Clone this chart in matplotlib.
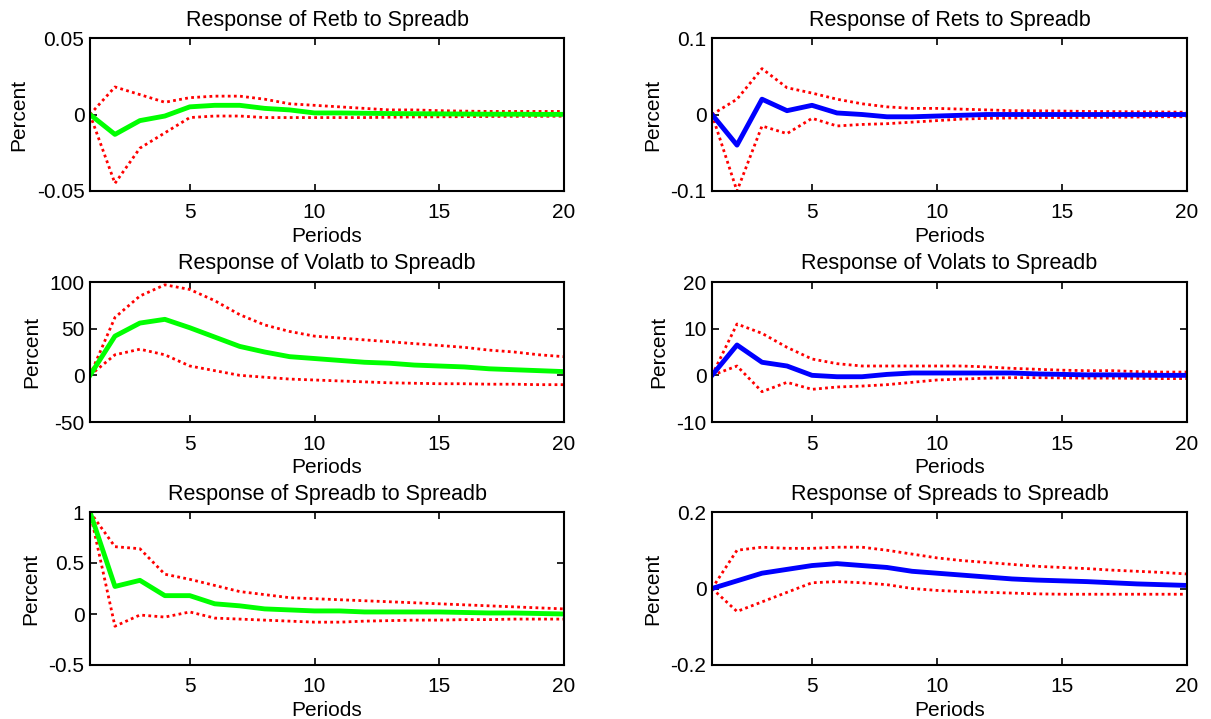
import numpy as np
import matplotlib
matplotlib.use('Agg')
from matplotlib import pyplot as plt

plt.rcParams['font.family'] = ['Liberation Sans', 'DejaVu Sans']
plt.rcParams['axes.unicode_minus'] = False

periods = np.arange(1, 21)

# response of Retb
retb_mid = [0, -0.013, -0.004, -0.001, 0.005, 0.006, 0.006, 0.004, 0.003, 0.001,
            0.001, 0.0008, 0.0006, 0.0005, 0.0004, 0.0003, 0.0002, 0.0002, 0.0001, 0.0001]
retb_up = [0, 0.018, 0.013, 0.008, 0.011, 0.012, 0.012, 0.010, 0.007, 0.006,
           0.005, 0.004, 0.003, 0.003, 0.0025, 0.0022, 0.002, 0.002, 0.002, 0.002]
retb_lo = [0, -0.045, -0.022, -0.012, -0.002, -0.001, -0.001, -0.002, -0.002, -0.002,
           -0.002, -0.002, -0.0018, -0.0016, -0.0015, -0.0014, -0.0013, -0.0012, -0.0012, -0.0011]

# response of Rets
rets_mid = [0, -0.04, 0.02, 0.005, 0.012, 0.002, 0.0, -0.003, -0.003, -0.002,
            -0.001, 0, 0, 0, 0, 0, 0, 0, 0, 0]
rets_up = [0, 0.02, 0.06, 0.035, 0.028, 0.02, 0.014, 0.01, 0.008, 0.008,
           0.007, 0.006, 0.005, 0.0048, 0.0045, 0.004, 0.0038, 0.0035, 0.0033, 0.003]
rets_lo = [0, -0.1, -0.015, -0.025, -0.005, -0.015, -0.013, -0.012, -0.01, -0.008,
           -0.006, -0.005, -0.0045, -0.004, -0.004, -0.0038, -0.0035, -0.0033, -0.003, -0.003]

# response of Volatb
volatb_mid = [0, 42, 56, 60, 51, 41, 31, 25, 20, 18, 16, 14, 13, 11, 10, 9, 7, 6, 5, 4]
volatb_up = [0, 62, 85, 97, 92, 80, 65, 54, 47, 42, 40, 38, 36, 34, 32, 30, 27, 25, 22, 20]
volatb_lo = [0, 22, 28, 22, 10, 5, 0, -2, -4, -5, -6, -7, -8, -8.5, -9, -9, -9.5, -9.5, -10, -10]

# response of Volats
volats_mid = [0, 6.5, 2.8, 2, 0, -0.3, -0.3, 0.2, 0.5, 0.5,
              0.5, 0.5, 0.5, 0.3, 0.2, 0.1, 0.1, 0.05, 0, 0]
volats_up = [0, 11, 9, 6, 3.5, 2.5, 2, 2, 2, 2, 2, 1.8, 1.5, 1.3, 1.1, 1, 1, 0.8, 0.7, 0.7]
volats_lo = [0, 2, -3.5, -1.5, -3, -2.5, -2.3, -2, -1.5, -1,
             -0.8, -0.6, -0.5, -0.5, -0.55, -0.6, -0.6, -0.65, -0.7, -0.7]

# response of Spreadb
spreadb_mid = [1, 0.27, 0.33, 0.18, 0.18, 0.1, 0.08, 0.05, 0.04, 0.03,
               0.03, 0.02, 0.02, 0.02, 0.02, 0.015, 0.01, 0.01, 0.005, 0]
spreadb_up = [1, 0.66, 0.64, 0.39, 0.34, 0.28, 0.22, 0.19, 0.16, 0.15,
              0.14, 0.13, 0.12, 0.11, 0.1, 0.09, 0.08, 0.07, 0.06, 0.05]
spreadb_lo = [1, -0.12, -0.01, -0.03, 0.02, -0.04, -0.05, -0.06, -0.07, -0.08,
              -0.08, -0.07, -0.065, -0.06, -0.06, -0.055, -0.055, -0.05, -0.05, -0.05]

# response of Spreads
spreads_mid = [0, 0.02, 0.04, 0.05, 0.06, 0.065, 0.06, 0.055, 0.045, 0.04,
               0.035, 0.03, 0.025, 0.022, 0.02, 0.018, 0.015, 0.012, 0.01, 0.008]
spreads_up = [0, 0.1, 0.108, 0.105, 0.105, 0.108, 0.108, 0.1, 0.09, 0.08,
              0.073, 0.068, 0.063, 0.058, 0.055, 0.052, 0.048, 0.045, 0.042, 0.038]
spreads_lo = [0, -0.06, -0.035, -0.01, 0.015, 0.018, 0.015, 0.01, 0.0, -0.005,
              -0.008, -0.01, -0.012, -0.014, -0.015, -0.015, -0.015, -0.015, -0.015, -0.015]

titles = ['Response of Retb to Spreadb', 'Response of Rets to Spreadb',
          'Response of Volatb to Spreadb', 'Response of Volats to Spreadb',
          'Response of Spreadb to Spreadb', 'Response of Spreads to Spreadb']
mids = [retb_mid, rets_mid, volatb_mid, volats_mid, spreadb_mid, spreads_mid]
ups = [retb_up, rets_up, volatb_up, volats_up, spreadb_up, spreads_up]
los = [retb_lo, rets_lo, volatb_lo, volats_lo, spreadb_lo, spreads_lo]
yticks = [[-0.05, 0, 0.05], [-0.1, 0, 0.1], [-50, 0, 50, 100],
          [-10, 0, 10, 20], [-0.5, 0, 0.5, 1], [-0.2, 0, 0.2]]
ylabels = [['-0.05', '0', '0.05'], ['-0.1', '0', '0.1'], ['-50', '0', '50', '100'],
           ['-10', '0', '10', '20'], ['-0.5', '0', '0.5', '1'], ['-0.2', '0', '0.2']]
colors = [(0, 1, 0), (0, 0, 1)] * 3

W, H = 1211, 719
fig = plt.figure(figsize=(W / 100, H / 100), dpi=100)

lefts = [90, 712]
widths = [474, 475]
rows = [(38, 191), (282, 422), (512, 665)]

fs = 15
for i in range(6):
    r, c = i // 2, i % 2
    y0, y1 = rows[r]
    ax = fig.add_axes([lefts[c] / W, 1 - y1 / H, widths[c] / W, (y1 - y0) / H])
    ax.plot(periods, ups[i], color='r', linestyle=(0, (1, 1.2)), linewidth=2)
    ax.plot(periods, los[i], color='r', linestyle=(0, (1, 1.2)), linewidth=2)
    ax.plot(periods, mids[i], color=colors[i], linewidth=3.5)
    ax.set_xlim(1, 20)
    ax.set_ylim(yticks[i][0], yticks[i][-1])
    ax.set_xticks([5, 10, 15, 20])
    ax.set_yticks(yticks[i])
    ax.set_yticklabels(ylabels[i])
    ax.tick_params(direction='in', top=True, right=True, labelsize=fs, length=5, width=1.2)
    ax.tick_params(axis='x', pad=9)
    ax.tick_params(axis='y', pad=4)
    for s in ax.spines.values():
        s.set_linewidth(1.5)
    ax.set_title(titles[i], fontsize=fs + 0.5, pad=9)
    ax.set_ylabel('Percent', fontsize=fs, labelpad=6)
    ax.set_xlabel('Periods', fontsize=fs, labelpad=3)

fig.savefig('out.png', dpi=100)
